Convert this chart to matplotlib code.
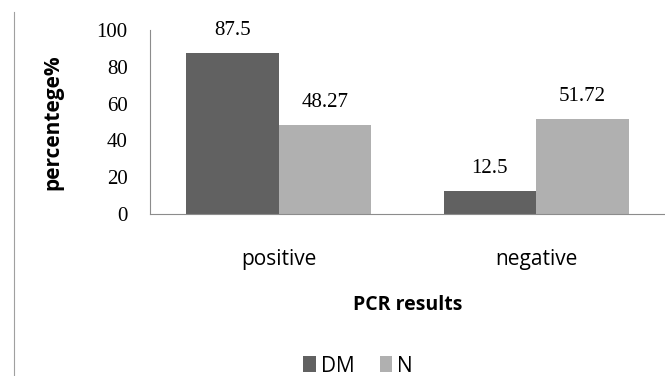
import numpy as np
import matplotlib.pyplot as plt
from matplotlib.lines import Line2D

categories = ["positive", "negative"]
dm_values = [87.5, 12.5]
n_values = [48.27, 51.72]
dm_labels = ["87.5", "12.5"]
n_labels = ["48.27", "51.72"]
series_names = ["DM", "N"]

dm_color = "#616161"
n_color = "#b0b0b0"

fig = plt.figure(figsize=(6.65, 3.76), dpi=100)
ax = fig.add_axes([150/665, 1 - 214/376, 515/665, 184/376])

x = np.arange(len(categories))
w = 0.36
b1 = ax.bar(x - w/2, dm_values, w, color=dm_color, label=series_names[0])
b2 = ax.bar(x + w/2, n_values, w, color=n_color, label=series_names[1])

for bars, labels in [(b1, dm_labels), (b2, n_labels)]:
    for rect, lab in zip(bars, labels):
        ax.text(rect.get_x() + rect.get_width()/2, rect.get_height() + 7, lab,
                ha="center", va="bottom", fontsize=15, family="Liberation Serif")

ax.set_xlim(-0.5, 1.5)
ax.set_ylim(0, 100)
ax.set_yticks([0, 20, 40, 60, 80, 100])
ax.set_yticklabels(["0", "20", "40", "60", "80", "100"], family="Liberation Serif",
                   fontsize=15)
ax.set_xticks(x)
ax.set_xticklabels(categories, family="Open Sans", fontsize=15)
ax.tick_params(axis="both", length=0)
ax.tick_params(axis="x", pad=25)
ax.tick_params(axis="y", pad=16)

for s in ["top", "right"]:
    ax.spines[s].set_visible(False)
for s in ["left", "bottom"]:
    ax.spines[s].set_color("#8c8c8c")

ax.set_xlabel("PCR results", family="Open Sans", fontsize=14, fontweight="bold",
              labelpad=18)
ax.set_ylabel("percentege%", family="Open Sans", fontsize=15, fontweight="bold",
              labelpad=24)

ax.legend(loc="center", bbox_to_anchor=(358/665, 1 - 366/376),
          bbox_transform=fig.transFigure, ncol=2, frameon=False,
          handlelength=0.6, handleheight=0.8, handletextpad=0.25, columnspacing=1.2,
          prop={"family": "Open Sans", "size": 15})

fig.add_artist(Line2D([14/665, 14/665], [0, 1 - 12/376], color="#a0a0a0", lw=0.8))

fig.savefig("out.png", dpi=100)
